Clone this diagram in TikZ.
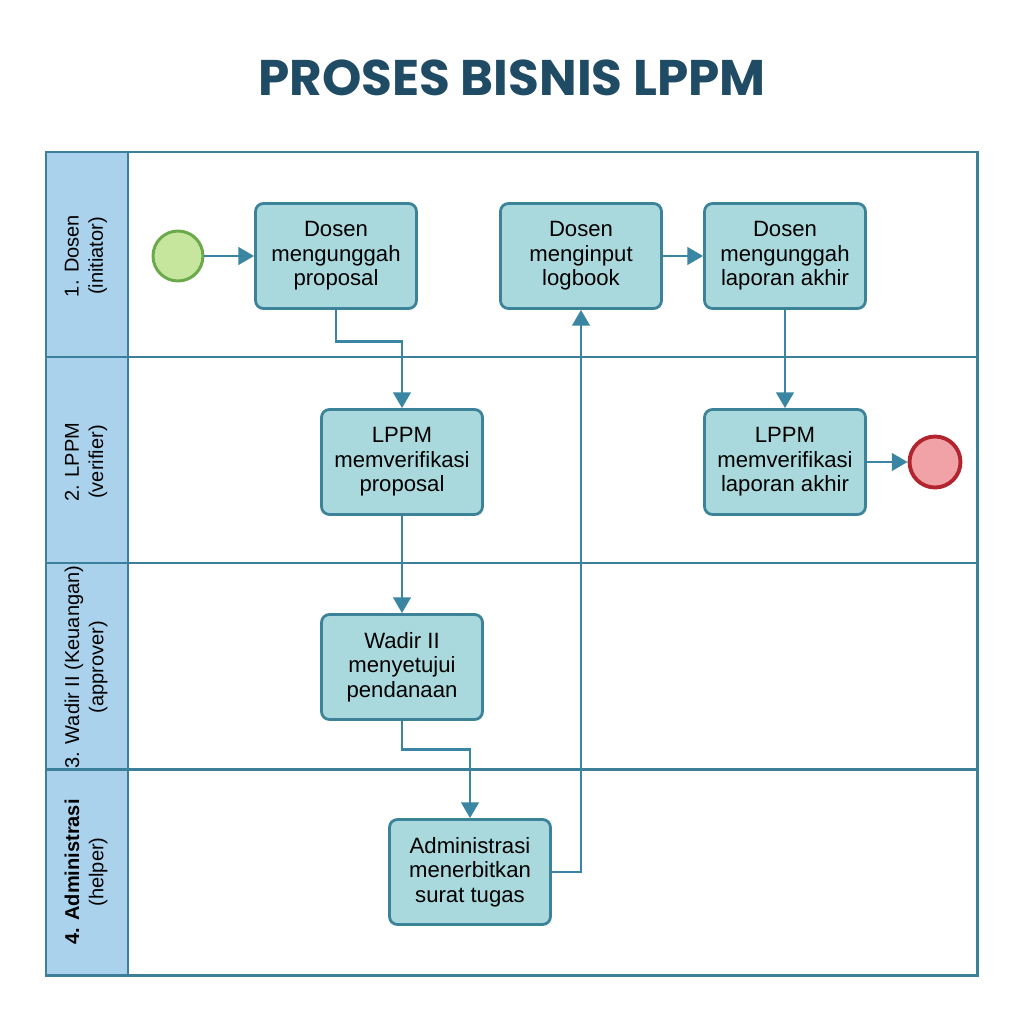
\documentclass[tikz,border=0pt]{standalone}
\usepackage{fontspec}
\setmainfont{Liberation Sans}
\newfontfamily\titlefont{Poppins}
\usetikzlibrary{arrows.meta}

\definecolor{titlecol}{HTML}{1F4B64}
\definecolor{poolline}{HTML}{3B7F9B}
\definecolor{headfill}{HTML}{AAD2EC}
\definecolor{taskfill}{HTML}{A9D9DD}
\definecolor{taskline}{HTML}{3C8299}
\definecolor{flowcol}{HTML}{3A85A1}
\definecolor{startfill}{HTML}{C6E59D}
\definecolor{startline}{HTML}{6AAA4B}
\definecolor{endfill}{HTML}{F1A2A6}
\definecolor{endline}{HTML}{B2252F}

\tikzset{
  task/.style={draw=taskline, fill=taskfill, line width=1.6pt, rounded corners=4.5pt,
    minimum width=3.22cm, minimum height=2.1cm, align=center,
    font=\fontsize{12.6}{14}\selectfont},
  startev/.style={circle, draw=startline, fill=startfill, line width=1.7pt, minimum size=1cm},
  endev/.style={circle, draw=endline, fill=endfill, line width=2.2pt, minimum size=1.02cm},
  flow/.style={->, draw=flowcol, line width=1.6pt},
  lanetext/.style={rotate=90, align=center, font=\fontsize{11.4}{13.8}\selectfont}
}

\begin{document}
\begin{tikzpicture}[x=0.02cm, y=-0.02cm, >={Triangle[length=9pt,width=10pt]}]
  \useasboundingbox (0,0) rectangle (1024,1024);

  % Title
  \node[font=\titlefont\bfseries\fontsize{28.5}{32}\selectfont, text=titlecol] (title) at (512,78) {PROSES BISNIS LPPM};

  % Pool and lanes
  \fill[headfill] (46,152) rectangle (128,975);
  \draw[poolline, line width=1.7pt] (46,152) rectangle (977,975);
  \draw[poolline, line width=1.7pt] (128,152) -- (128,975);
  \foreach \y in {357,563,769}
    \draw[poolline, line width=1.7pt] (46,\y) -- (977,\y);

  % Lane labels
  \node[lanetext] (lane1) at (86,256) {1. Dosen\\(initiator)};
  \node[lanetext] (lane2) at (86,462) {2. LPPM\\(verifier)};
  \node[lanetext] (lane3) at (86,667) {3. Wadir II (Keuangan)\\(approver)};
  \node[lanetext] (lane4) at (86,872) {\textbf{4. Administrasi}\\(helper)};

  % Events
  \node[startev] (start) at (178,256) {};
  \node[endev] (finish) at (935,462) {};

  % Tasks
  \node[task] (upload) at (336,256) {Dosen\\mengunggah\\proposal};
  \node[task] (logbook) at (581,256) {Dosen\\menginput\\logbook};
  \node[task] (report) at (785,256) {Dosen\\mengunggah\\laporan akhir};
  \node[task] (verprop) at (402,462) {LPPM\\memverifikasi\\proposal};
  \node[task] (verrep) at (785,462) {LPPM\\memverifikasi\\laporan akhir};
  \node[task] (approve) at (402,667) {Wadir II\\menyetujui\\pendanaan};
  \node[task] (issue) at (470,872) {Administrasi\\menerbitkan\\surat tugas};

  % Sequence flows
  \draw[flow] (start) -- (upload);
  \draw[flow] (upload.south) -- ++(0,32) -| (verprop.north);
  \draw[flow] (verprop) -- (approve);
  \draw[flow] (approve.south) -- ++(0,29) -| (issue.north);
  \draw[flow] (issue.east) -| (logbook.south);
  \draw[flow] (logbook) -- (report);
  \draw[flow] (report) -- (verrep);
  \draw[flow] (verrep) -- (finish);
\end{tikzpicture}
\end{document}
